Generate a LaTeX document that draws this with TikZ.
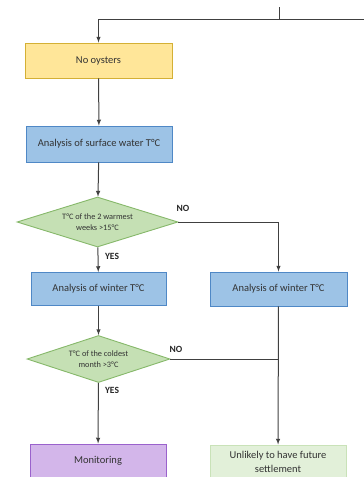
\documentclass[tikz,border=0pt]{standalone}
\usepackage{fontspec}
\setmainfont{Carlito}
\usetikzlibrary{shapes.geometric, arrows.meta, positioning}
\definecolor{oystfill}{HTML}{FFE699}
\definecolor{oystline}{HTML}{D4B035}
\definecolor{anafill}{HTML}{9DC3E6}
\definecolor{analine}{HTML}{4F88C6}
\definecolor{testfill}{HTML}{C5E0B4}
\definecolor{testline}{HTML}{86B86A}
\definecolor{monfill}{HTML}{D3B6EA}
\definecolor{monline}{HTML}{9A62CC}
\definecolor{unlfill}{HTML}{E2F0D9}
\definecolor{unlline}{HTML}{C9E2B8}
\definecolor{flowline}{HTML}{404040}

\tikzset{
  box/.style={draw, line width=0.9pt, inner sep=2pt, align=center,
    font=\fontsize{10.5}{13.5}\selectfont, text=black!80},
  test/.style={diamond, draw=testline, fill=testfill, line width=0.9pt,
    inner sep=0pt, aspect=3, align=center, font=\fontsize{8.3}{10.5}\selectfont,
    text=black!80},
  answer/.style={font=\bfseries\fontsize{9.5}{11}\selectfont, text=black!85},
  flow/.style={draw=flowline, line width=1pt}
}

\begin{document}
\begin{tikzpicture}[>=latex, x=1pt, y=-1pt]
\useasboundingbox (0,0) rectangle (364,477);
\clip (0,0) rectangle (364,477);
% boxes and tests
\node[box, draw=oystline, fill=oystfill, minimum width=147pt, minimum height=35pt] (oyst) at (98.5,60.5) {No oysters};
\node[box, draw=analine, fill=anafill, minimum width=146pt, minimum height=36pt] (surf) at (99,144) {Analysis of surface water T°C};
\node[test, minimum width=161pt, minimum height=50pt] (warm) at (97.5,222) {T°C of the 2 warmest\\weeks >15°C};
\node[box, draw=analine, fill=anafill, minimum width=135pt, minimum height=33pt] (wintL) at (98.5,289) {Analysis of winter T°C};
\node[box, draw=analine, fill=anafill, minimum width=137pt, minimum height=34pt] (wintR) at (278.5,289) {Analysis of winter T°C};
\node[test, minimum width=143pt, minimum height=47pt] (cold) at (98.5,359) {T°C of the coldest\\month >3°C};
\node[box, draw=monline, fill=monfill, minimum width=136pt, minimum height=34pt] (mon) at (98,461) {Monitoring};
\node[box, draw=unlline, fill=unlfill, minimum width=136pt, minimum height=34pt] (unl) at (278,462) {Unlikely to have future\\settlement};
% incoming line
\coordinate (top) at (279,7);
\coordinate (jn) at (279,19);
\coordinate (rgt) at (366,19);
\draw[flow] (top) -- (jn);
\draw[flow, ->] (rgt) -| (oyst);
% connectors
\draw[flow, ->] (oyst) -- (surf);
\draw[flow, ->] (surf) -- (warm);
\draw[flow, ->] (warm) -- (wintL);
\draw[flow, ->] (warm.east) -| (wintR);
\draw[flow, ->] (wintL) -- (cold);
\draw[flow, ->] (cold) -- (mon);
\draw[flow, ->] (wintR) -- (unl);
\draw[flow] (cold.east) -- (cold.east -| wintR);
% answers
\node[answer] (no1) at (183,208) {NO};
\node[answer] (yes1) at (112,256) {YES};
\node[answer] (no2) at (176,349) {NO};
\node[answer] (yes2) at (112,390) {YES};
\end{tikzpicture}
\end{document}
